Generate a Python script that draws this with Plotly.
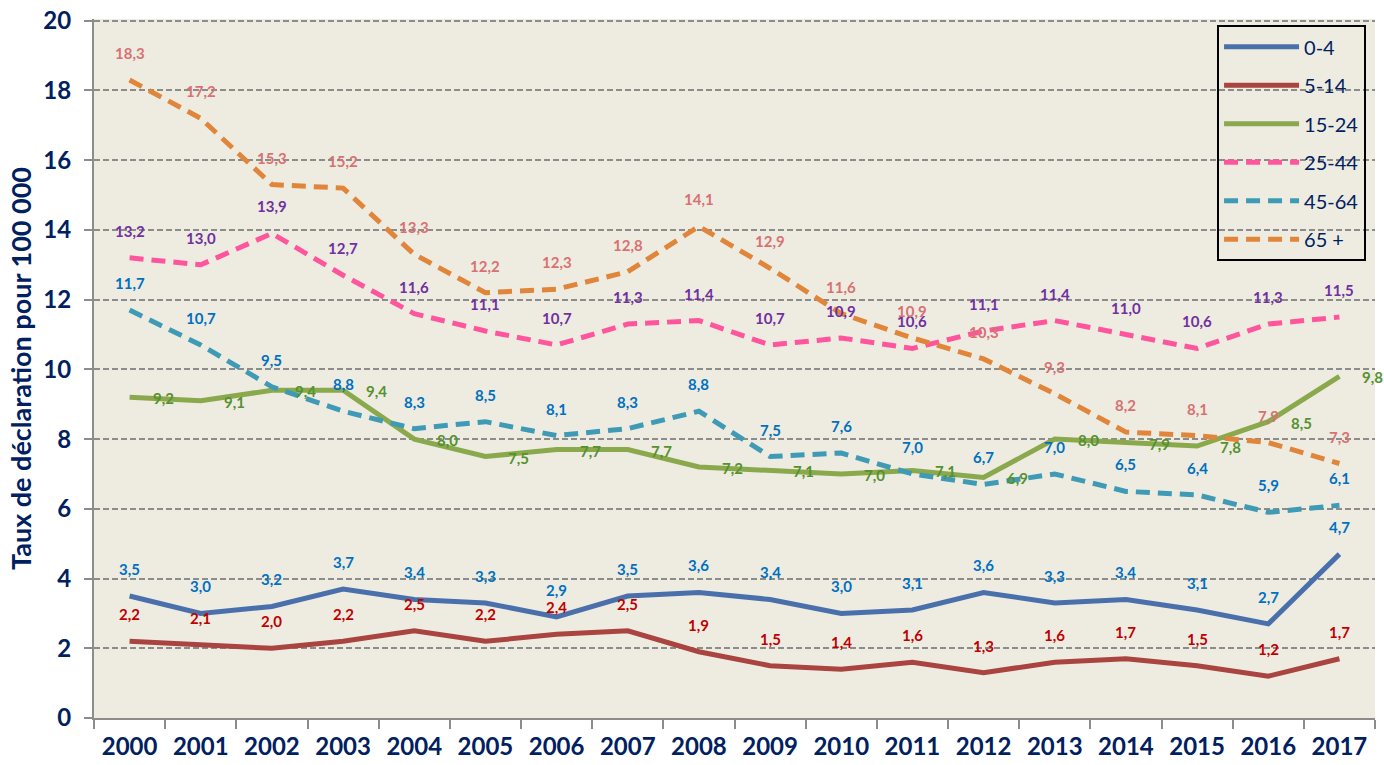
import plotly.graph_objects as go

years = [str(y) for y in range(2000, 2018)]

series_names = ["0-4", "5-14", "15-24", "25-44", "45-64", "65 +"]

v_0_4 = [3.5, 3.0, 3.2, 3.7, 3.4, 3.3, 2.9, 3.5, 3.6, 3.4, 3.0, 3.1, 3.6, 3.3, 3.4, 3.1, 2.7, 4.7]
v_5_14 = [2.2, 2.1, 2.0, 2.2, 2.5, 2.2, 2.4, 2.5, 1.9, 1.5, 1.4, 1.6, 1.3, 1.6, 1.7, 1.5, 1.2, 1.7]
v_15_24 = [9.2, 9.1, 9.4, 9.4, 8.0, 7.5, 7.7, 7.7, 7.2, 7.1, 7.0, 7.1, 6.9, 8.0, 7.9, 7.8, 8.5, 9.8]
v_25_44 = [13.2, 13.0, 13.9, 12.7, 11.6, 11.1, 10.7, 11.3, 11.4, 10.7, 10.9, 10.6, 11.1, 11.4, 11.0, 10.6, 11.3, 11.5]
v_45_64 = [11.7, 10.7, 9.5, 8.8, 8.3, 8.5, 8.1, 8.3, 8.8, 7.5, 7.6, 7.0, 6.7, 7.0, 6.5, 6.4, 5.9, 6.1]
v_65 = [18.3, 17.2, 15.3, 15.2, 13.3, 12.2, 12.3, 12.8, 14.1, 12.9, 11.6, 10.9, 10.3, 9.3, 8.2, 8.1, 7.9, 7.3]

y_ticks = [0, 2, 4, 6, 8, 10, 12, 14, 16, 18, 20]

all_values = [v_0_4, v_5_14, v_15_24, v_25_44, v_45_64, v_65]
line_colors = ["#4A70AC", "#A94441", "#8AA84C", "#FF559D", "#3F9AB5", "#E0853A"]
label_colors = ["#0070C0", "#C00000", "#55912F", "#7030A0", "#0070C0", "#D87272"]
dashes = ["solid", "solid", "solid", "14px,8px", "14px,8px", "14px,8px"]

NAVY = "#002060"

fig = go.Figure()

for i, (name, vals) in enumerate(zip(series_names, all_values)):
    fig.add_trace(go.Scatter(
        x=years, y=vals, name=name, mode="lines",
        line=dict(color=line_colors[i], width=5, dash=dashes[i]),
        legendgroup=name, hoverinfo="skip",
    ))

annotations = []
for i, vals in enumerate(all_values):
    for xi, v in enumerate(vals):
        txt = f"{v:.1f}".replace(".", ",")
        font = dict(family="Lato", size=15, color=label_colors[i], weight="bold")
        if series_names[i] == "15-24":
            annotations.append(dict(x=xi, y=v, xref="x", yref="y", text=txt,
                                    showarrow=False, xanchor="left", yanchor="middle",
                                    xshift=21, yshift=-1, font=font))
        else:
            annotations.append(dict(x=xi, y=v, xref="x", yref="y", text=txt,
                                    showarrow=False, xanchor="center", yanchor="middle",
                                    yshift=27, font=font))

fig.update_layout(
    width=1384, height=765,
    margin=dict(l=94, r=9, t=19, b=47, autoexpand=False),
    paper_bgcolor="white",
    plot_bgcolor="#EEECE1",
    annotations=annotations,
    showlegend=True,
    legend=dict(
        x=0.8767, y=0.991, xanchor="left", yanchor="top",
        bordercolor="black", borderwidth=2, bgcolor="rgba(0,0,0,0)",
        font=dict(family="Lato", size=20, color=NAVY),
        tracegroupgap=9.5, itemwidth=75,
        traceorder="grouped",
    ),
    xaxis=dict(
        type="category", range=[-0.5, 17.5], automargin=False,
        showgrid=False, showline=True, linecolor="#8C8C8C", linewidth=2,
        ticks="outside", tickson="boundaries", ticklen=9, tickcolor="#8C8C8C", tickwidth=2,
        tickfont=dict(family="Lato", size=24, color=NAVY, weight="bold"),
        ticklabelstandoff=6,
    ),
    yaxis=dict(
        range=[0, 20.05], tickvals=y_ticks, automargin=False,
        showgrid=True, gridcolor="#8C8C8C", gridwidth=2, griddash="6px,3px",
        showline=True, linecolor="#8C8C8C", linewidth=2,
        ticks="outside", ticklen=8, tickcolor="#8C8C8C", tickwidth=2,
        tickfont=dict(family="Lato", size=24, color=NAVY, weight="bold"),
        ticklabelstandoff=8, ticklabeloverflow="allow",
        zeroline=False,
        title=dict(text="Taux de déclaration pour 100 000",
                   font=dict(family="Lato", size=27, color=NAVY, weight="bold"),
                   standoff=4),
    ),
)

fig.write_html("out.html", config={"displayModeBar": False},
               post_script="document.body.style.margin='0px';")
